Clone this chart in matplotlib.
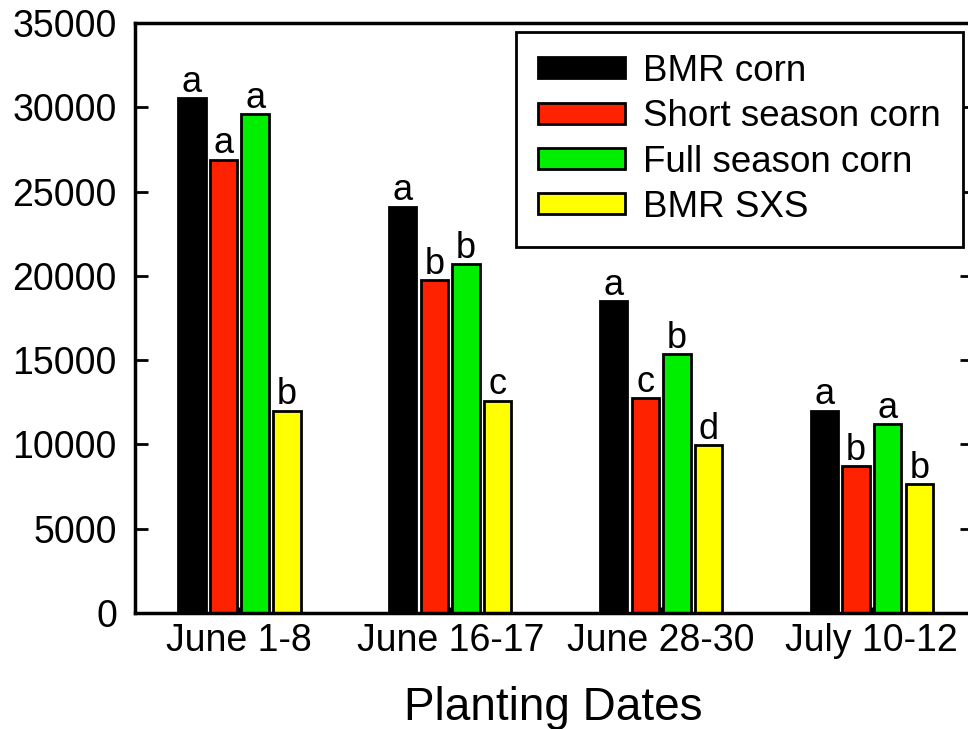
import numpy as np
import matplotlib.pyplot as plt

plt.rcParams['font.family'] = ['Liberation Sans', 'DejaVu Sans']

dates = ['June 1-8', 'June 16-17', 'June 28-30', 'July 10-12']
series = ['BMR corn', 'Short season corn', 'Full season corn', 'BMR SXS']
colors = ['#000000', '#ff2200', '#00ee00', '#ffff00']

bmr_corn = [30550, 24100, 18500, 12000]
short_season = [26900, 19750, 12750, 8700]
full_season = [29600, 20700, 15350, 11200]
bmr_sxs = [12000, 12600, 9950, 7650]
values = [bmr_corn, short_season, full_season, bmr_sxs]

letters = [['a', 'a', 'a', 'a'],
           ['a', 'b', 'c', 'b'],
           ['a', 'b', 'b', 'a'],
           ['b', 'c', 'd', 'b']]

fig = plt.figure(figsize=(9.68, 7.29), dpi=100)
ax = fig.add_axes([135 / 968, 1 - 613 / 729, (972 - 135) / 968, (613 - 23) / 729])

x = np.arange(len(dates))
offsets = [-0.225, -0.075, 0.075, 0.225]
for i in range(4):
    ax.bar(x + offsets[i], values[i], width=0.13, color=colors[i],
           edgecolor='black', linewidth=2, label=series[i], zorder=2)
    for j in range(len(dates)):
        ax.text(x[j] + offsets[i], values[i][j] + 380, letters[i][j],
                ha='center', va='baseline', fontsize=26)

ax.set_xlim(-0.495, 3.475)
ax.set_ylim(0, 35000)
ax.set_yticks(np.arange(0, 35001, 5000))
ax.set_xticks(x)
ax.set_xticklabels(dates)
ax.tick_params(axis='y', direction='in', length=9, width=2, labelsize=27,
               right=True, pad=13)
ax.tick_params(axis='x', direction='in', length=4, width=2, labelsize=27, pad=7)
for s in ax.spines.values():
    s.set_linewidth(2.5)
ax.set_xlabel('Planting Dates', fontsize=33, labelpad=20)

leg = ax.legend(loc='upper right', bbox_to_anchor=(0.9895, 0.985), fontsize=26.5,
                frameon=True, fancybox=False, handlelength=2.35, handleheight=0.5,
                borderpad=0.6, labelspacing=0.28, handletextpad=0.5,
                borderaxespad=0)
leg.get_frame().set_edgecolor('black')
leg.get_frame().set_linewidth(2)
leg.get_frame().set_alpha(1)

fig.savefig('out.png', dpi=100)
